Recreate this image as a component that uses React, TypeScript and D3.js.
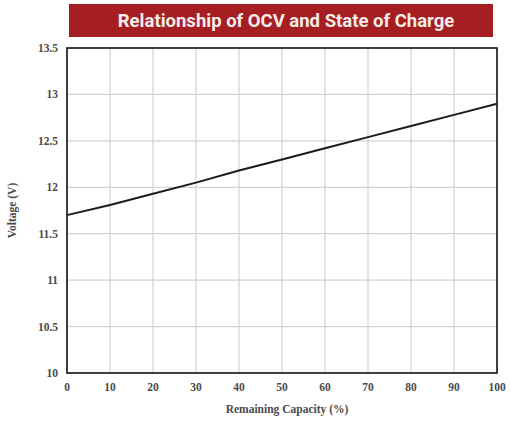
import React, { useEffect, useRef } from 'react';
import * as d3 from 'd3';

// readings taken off the reference curve
const capacity = [0, 10, 20, 30, 40, 50, 60, 70, 80, 90, 100];
const voltage = [11.7, 11.81, 11.93, 12.05, 12.18, 12.3, 12.42, 12.54, 12.66, 12.78, 12.9];
const xTicks = [0, 10, 20, 30, 40, 50, 60, 70, 80, 90, 100];
const yTicks = [10, 10.5, 11, 11.5, 12, 12.5, 13, 13.5];

const App = () => {
  const ref = useRef<SVGSVGElement>(null);

  useEffect(() => {
    const W = 511;
    const H = 421;
    const margin = { top: 48, right: 14, bottom: 48, left: 67 };
    const width = W - margin.left - margin.right;
    const height = H - margin.top - margin.bottom;

    const root = d3.select(ref.current);
    root.selectAll('*').remove();

    // title banner
    root.append('rect')
      .attr('x', 69).attr('y', 4)
      .attr('width', 424).attr('height', 33)
      .attr('fill', '#a51e22');
    root.append('text')
      .attr('x', 286).attr('y', 27)
      .attr('text-anchor', 'middle')
      .attr('fill', '#f6ecea')
      .style('font-family', 'Roboto, sans-serif')
      .style('font-weight', 'bold')
      .style('font-size', '18.5px')
      .text('Relationship of OCV and State of Charge');

    const svg = root.append('g')
      .attr('transform', `translate(${margin.left},${margin.top})`);

    const x = d3.scaleLinear().domain([0, 100]).range([0, width]);
    const y = d3.scaleLinear().domain([10, 13.5]).range([height, 0]);

    // grid
    svg.append('g')
      .selectAll('line')
      .data(xTicks.slice(1, -1))
      .enter()
      .append('line')
      .attr('x1', d => x(d)).attr('x2', d => x(d))
      .attr('y1', 0).attr('y2', height)
      .attr('stroke', '#d9d0d0')
      .attr('stroke-width', 1.2);
    svg.append('g')
      .selectAll('line')
      .data(yTicks.slice(1, -1))
      .enter()
      .append('line')
      .attr('y1', d => y(d)).attr('y2', d => y(d))
      .attr('x1', 0).attr('x2', width)
      .attr('stroke', '#d9d0d0')
      .attr('stroke-width', 1.2);

    // frame
    svg.append('rect')
      .attr('width', width).attr('height', height)
      .attr('fill', 'none')
      .attr('stroke', '#111')
      .attr('stroke-width', 1.6);

    const labelStyle = (sel: any) => sel
      .style('font-family', '"Liberation Serif", serif')
      .style('font-size', '11.5px')
      .style('font-weight', 'bold')
      .attr('fill', '#4a4a4a');

    svg.append('g')
      .selectAll('text')
      .data(xTicks)
      .enter()
      .append('text')
      .attr('x', d => x(d))
      .attr('y', height + 18)
      .attr('text-anchor', 'middle')
      .text(d => d)
      .call(labelStyle);

    svg.append('g')
      .selectAll('text')
      .data(yTicks)
      .enter()
      .append('text')
      .attr('x', -9)
      .attr('y', d => y(d) + 4)
      .attr('text-anchor', 'end')
      .text(d => d)
      .call(labelStyle);

    // axis titles
    svg.append('text')
      .attr('x', width / 2 + 5)
      .attr('y', height + 40)
      .attr('text-anchor', 'middle')
      .text('Remaining Capacity (%)')
      .call(labelStyle);
    svg.append('text')
      .attr('transform', `translate(${-51},${height / 2}) rotate(-90)`)
      .attr('text-anchor', 'middle')
      .text('Voltage (V)')
      .call(labelStyle);

    // OCV curve
    const line = d3.line<number>()
      .x((d, i) => x(capacity[i]))
      .y(d => y(d));
    svg.append('path')
      .datum(voltage)
      .attr('d', line)
      .attr('fill', 'none')
      .attr('stroke', '#1b1b1b')
      .attr('stroke-width', 2);
  }, []);

  return (
    <svg
      ref={ref}
      width={511}
      height={421}
      style={{ position: 'absolute', left: 0, top: 0, background: '#fff' }}
    />
  );
};

export default App;
